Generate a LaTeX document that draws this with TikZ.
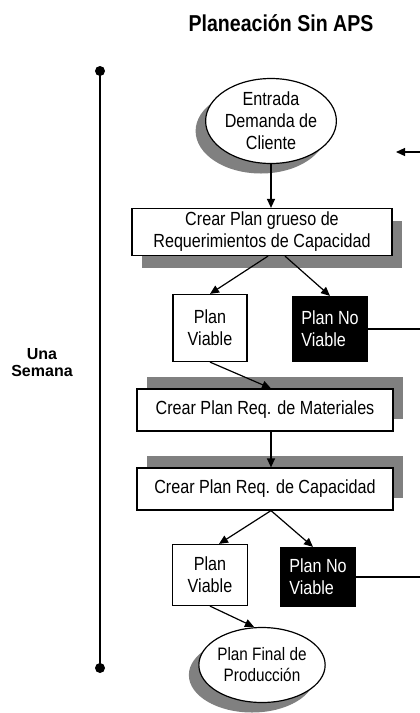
\documentclass[tikz,border=0pt]{standalone}
\usepackage{fontspec}
\setmainfont{Liberation Sans}[FakeStretch=0.85]
\newfontfamily\semanafont{Liberation Sans}
\usetikzlibrary{shapes.geometric,shadows,arrows.meta}

\begin{document}
\begin{tikzpicture}[x=1pt,y=-1pt,line width=1.2pt,
    font=\fontsize{19}{22}\selectfont]

        \useasboundingbox (0,0) rectangle (420,713);

        \node[font=\fontsize{23}{26}\selectfont\bfseries] (titulo) at (281,23) {Planeación Sin APS};
        \node[align=center,font=\semanafont\fontsize{16}{17}\selectfont\bfseries] (semana) at (42,363) {Una\\Semana};

        % linea de tiempo
        \coordinate (inicio) at (100,71);
        \coordinate (fin) at (100,668);
        \draw[line width=1.6pt] (inicio) -- (fin);
        \fill (inicio) circle (5pt);
        \fill (fin) circle (5pt);

        % salidas a la derecha
        \coordinate (derecha) at (420,152);
        \coordinate (punta) at (396,152);
        \coordinate (salida1) at (420,328);
        \coordinate (salida2) at (420,575);

        \begin{scope}[every node/.style={ellipse,draw,fill=white,align=center,inner sep=0pt,
            drop shadow={shadow xshift=-10pt,shadow yshift=-10pt,fill=black!50,opacity=1}}]
          \node[minimum width=118pt,minimum height=85pt] (entrada) at (271,121) {Entrada\\Demanda de\\Cliente};
          \node[minimum width=125pt,minimum height=75pt,font=\fontsize{18}{21}\selectfont] (final) at (262,665) {Plan Final de\\Producción};
        \end{scope}

        \begin{scope}[every node/.style={rectangle,draw,fill=white,align=center,inner sep=0pt}]
          \node[minimum width=260pt,minimum height=47pt,
            drop shadow={shadow xshift=10pt,shadow yshift=-12pt,fill=black!50,opacity=1}] (crear1) at (262,232) {Crear Plan grueso de\\Requerimientos de Capacidad};
          \node[minimum width=256pt,minimum height=42pt,
            drop shadow={shadow xshift=10pt,shadow yshift=12pt,fill=black!50,opacity=1}] (materiales) at (265,410) {Crear Plan Req. de Materiales};
          \node[minimum width=256pt,minimum height=42pt,
            drop shadow={shadow xshift=10pt,shadow yshift=12pt,fill=black!50,opacity=1}] (capacidad) at (265,489) {Crear Plan Req. de Capacidad};
          \node[minimum width=74pt,minimum height=67pt] (viable1) at (210,328) {Plan\\Viable};
          \node[minimum width=75pt,minimum height=61pt] (viable2) at (210,575) {Plan\\Viable};
        \end{scope}

        \begin{scope}[every node/.style={rectangle,draw,fill=black,text=white,align=left,inner sep=0pt,minimum width=75pt}]
          \node[minimum height=65pt] (noviable1) at (330,329) {Plan No\\Viable};
          \node[minimum height=59pt] (noviable2) at (318,577) {Plan No\\Viable};
        \end{scope}

        \begin{scope}[every edge/.style={draw,-{Triangle[length=9pt,width=8pt]}}]
          \path (entrada.south) edge (entrada.south |- crear1.north);
          \path ([xshift=6pt]crear1.south) edge (viable1.north);
          \path ([xshift=23pt]crear1.south) edge (noviable1.north);
          \path (viable1.south) edge ([xshift=6pt]materiales.north);
          \path ([xshift=6pt]materiales.south) edge ([xshift=6pt]capacidad.north);
          \path ([xshift=6pt]capacidad.south) edge ([xshift=9pt]viable2.north);
          \path ([xshift=6pt]capacidad.south) edge ([xshift=-5pt]noviable2.north);
          \path (viable2.south) edge ([xshift=-8pt]final.north);
          \path (derecha) edge (punta);
        \end{scope}

        \draw (noviable1.east) -- (noviable1.east -| salida1);
        \draw (noviable2.east) -- (noviable2.east -| salida2);

      \end{tikzpicture}
\end{document}
